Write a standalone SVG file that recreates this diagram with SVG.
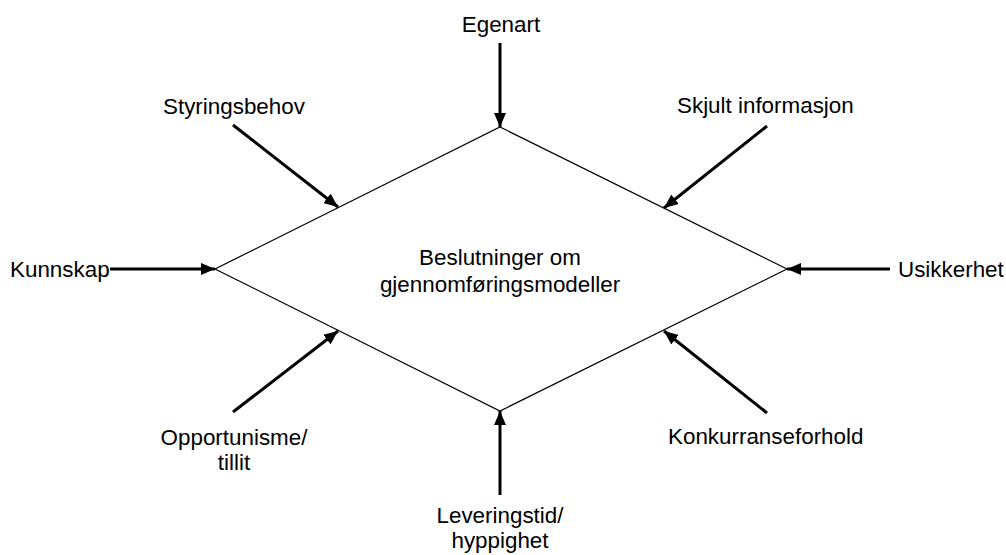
<svg xmlns="http://www.w3.org/2000/svg" width="1006" height="555" viewBox="0 0 1006 555">
  <style>
    .lbl { font-family: "Liberation Sans", Arial, sans-serif; font-size: 22.4px; fill: #000; }
    .mid { text-anchor: middle; }
    .edge { stroke: #000; stroke-width: 3; fill: none; marker-end: url(#head); }
    .shape { fill: #fff; stroke: #000; stroke-width: 1.2; }
  </style>
  <defs>
    <marker id="head" viewBox="0 0 14 12" refX="14" refY="6" markerWidth="14" markerHeight="12" markerUnits="userSpaceOnUse" orient="auto">
      <path d="M0,0 L14,6 L0,12 Z" fill="#000"/>
    </marker>
  </defs>

  <!-- central decision diamond -->
  <g id="decision">
    <polygon class="shape" points="500,127 787,269 500,411 215,269"/>
    <text class="lbl mid" x="500" y="265">Beslutninger om</text>
    <text class="lbl mid" x="500" y="292">gjennomføringsmodeller</text>
  </g>

  <!-- influencing factors -->
  <g id="egenart"><text class="lbl mid" x="501" y="32">Egenart</text></g>
  <g id="styringsbehov"><text class="lbl" x="163" y="114">Styringsbehov</text></g>
  <g id="skjult"><text class="lbl" x="677" y="113">Skjult informasjon</text></g>
  <g id="kunnskap"><text class="lbl" x="10" y="277">Kunnskap</text></g>
  <g id="usikkerhet"><text class="lbl" x="898" y="277">Usikkerhet</text></g>
  <g id="opportunisme">
    <text class="lbl mid" x="234" y="445">Opportunisme/</text>
    <text class="lbl mid" x="234" y="470">tillit</text>
  </g>
  <g id="konkurranse"><text class="lbl" x="668" y="444">Konkurranseforhold</text></g>
  <g id="leveringstid">
    <text class="lbl mid" x="500" y="523">Leveringstid/</text>
    <text class="lbl mid" x="500" y="548">hyppighet</text>
  </g>

  <!-- connectors -->
  <g id="connectors">
    <line class="edge" x1="500" y1="43" x2="500" y2="127"/>
    <line class="edge" x1="233" y1="125" x2="338" y2="207"/>
    <line class="edge" x1="767" y1="126" x2="664" y2="208"/>
    <line class="edge" x1="110" y1="269" x2="215" y2="269"/>
    <line class="edge" x1="890" y1="269" x2="787" y2="269"/>
    <line class="edge" x1="233" y1="412" x2="338" y2="331"/>
    <line class="edge" x1="767" y1="413" x2="664" y2="331"/>
    <line class="edge" x1="500" y1="495" x2="500" y2="411"/>
  </g>
</svg>
